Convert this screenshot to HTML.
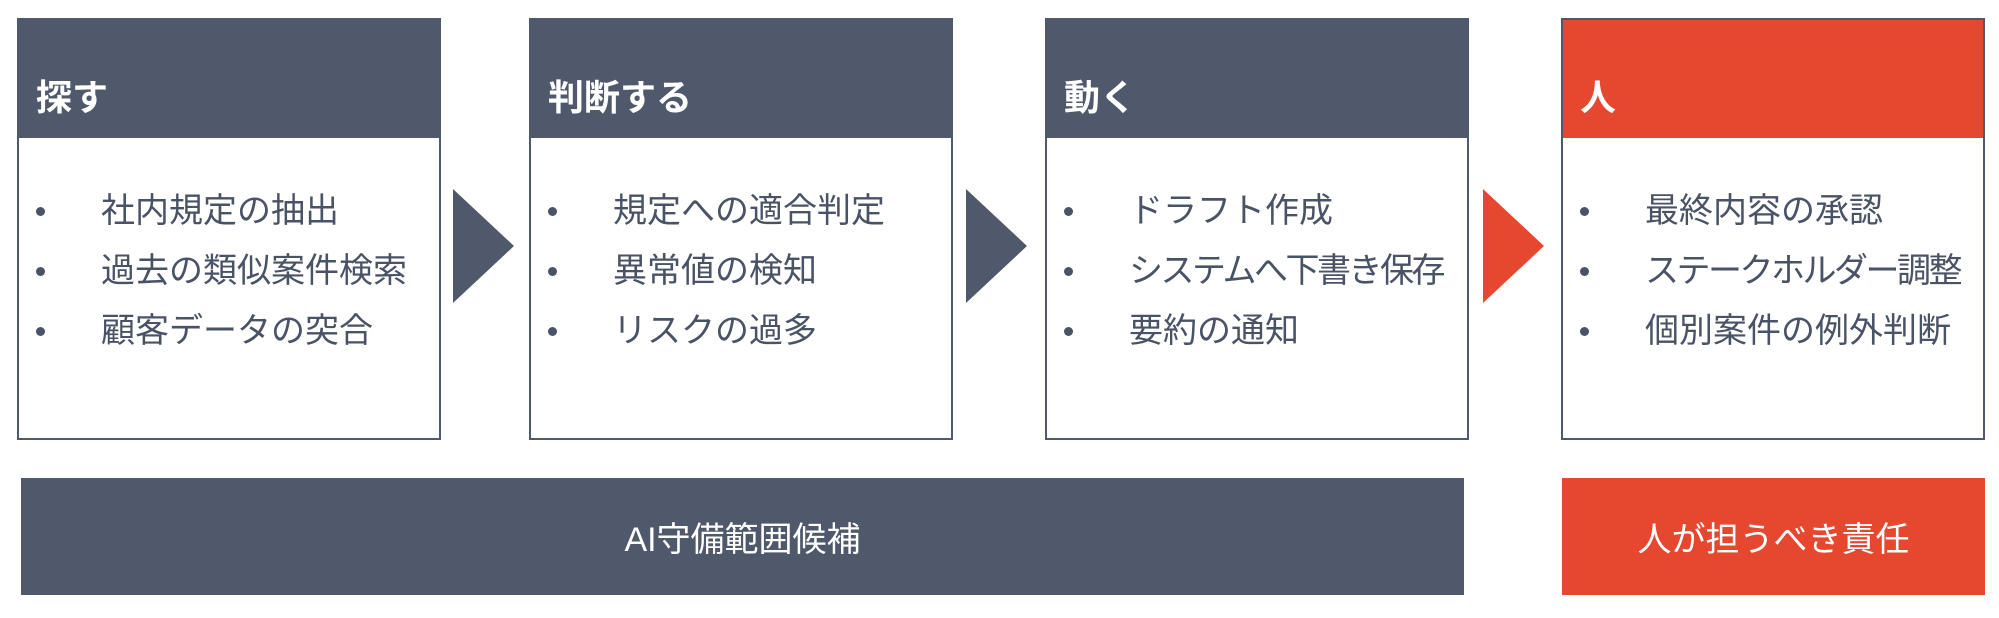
<!DOCTYPE html>
<html><head><meta charset="utf-8"><style>
body{margin:0;width:1999px;height:618px;background:#fff;position:relative;overflow:hidden;font-family:"Liberation Sans","Noto Sans CJK JP",sans-serif;}
.box{position:absolute;top:18px;width:420px;height:418px;border:2px solid #50586b;background:#fff;}
.hd{height:118px;background:#50586b;color:#fff;font-size:36px;font-weight:bold;padding-left:17px;line-height:1;box-sizing:border-box;padding-top:60px;}
.red .hd{background:#e5472f;}
ul{list-style:none;margin:0;padding:0;position:absolute;top:174px;left:0;}
li{position:relative;height:60px;padding-left:82px;font-size:34px;color:#4a5266;line-height:1;white-space:nowrap;}
li:before{content:"";position:absolute;left:17px;top:13px;width:9px;height:9px;border-radius:50%;background:#4a5266;}
li.k{letter-spacing:-2.5px;}
.arr{position:absolute;top:189px;width:0;height:0;border-top:57px solid transparent;border-bottom:57px solid transparent;border-left:61px solid #50586b;}
.bar{position:absolute;top:478px;height:117px;color:#fff;font-size:34px;display:flex;align-items:center;justify-content:center;}
</style></head><body>
<div class="box" style="left:17px"><div class="hd">探す</div><ul><li>社内規定の抽出</li><li>過去の類似案件検索</li><li>顧客データの突合</li></ul></div>
<div class="box" style="left:529px"><div class="hd">判断する</div><ul><li>規定への適合判定</li><li>異常値の検知</li><li>リスクの過多</li></ul></div>
<div class="box" style="left:1045px"><div class="hd">動く</div><ul><li>ドラフト作成</li><li class="k">システムへ下書き保存</li><li>要約の通知</li></ul></div>
<div class="box red" style="left:1561px"><div class="hd">人</div><ul><li>最終内容の承認</li><li class="k">ステークホルダー調整</li><li>個別案件の例外判断</li></ul></div>
<div class="arr" style="left:453px"></div>
<div class="arr" style="left:966px"></div>
<div class="arr" style="left:1483px;border-left-color:#e5472f"></div>
<div class="bar" style="left:21px;width:1443px;background:#50586b">AI守備範囲候補</div>
<div class="bar" style="left:1562px;width:423px;background:#e5472f">人が担うべき責任</div>
</body></html>
